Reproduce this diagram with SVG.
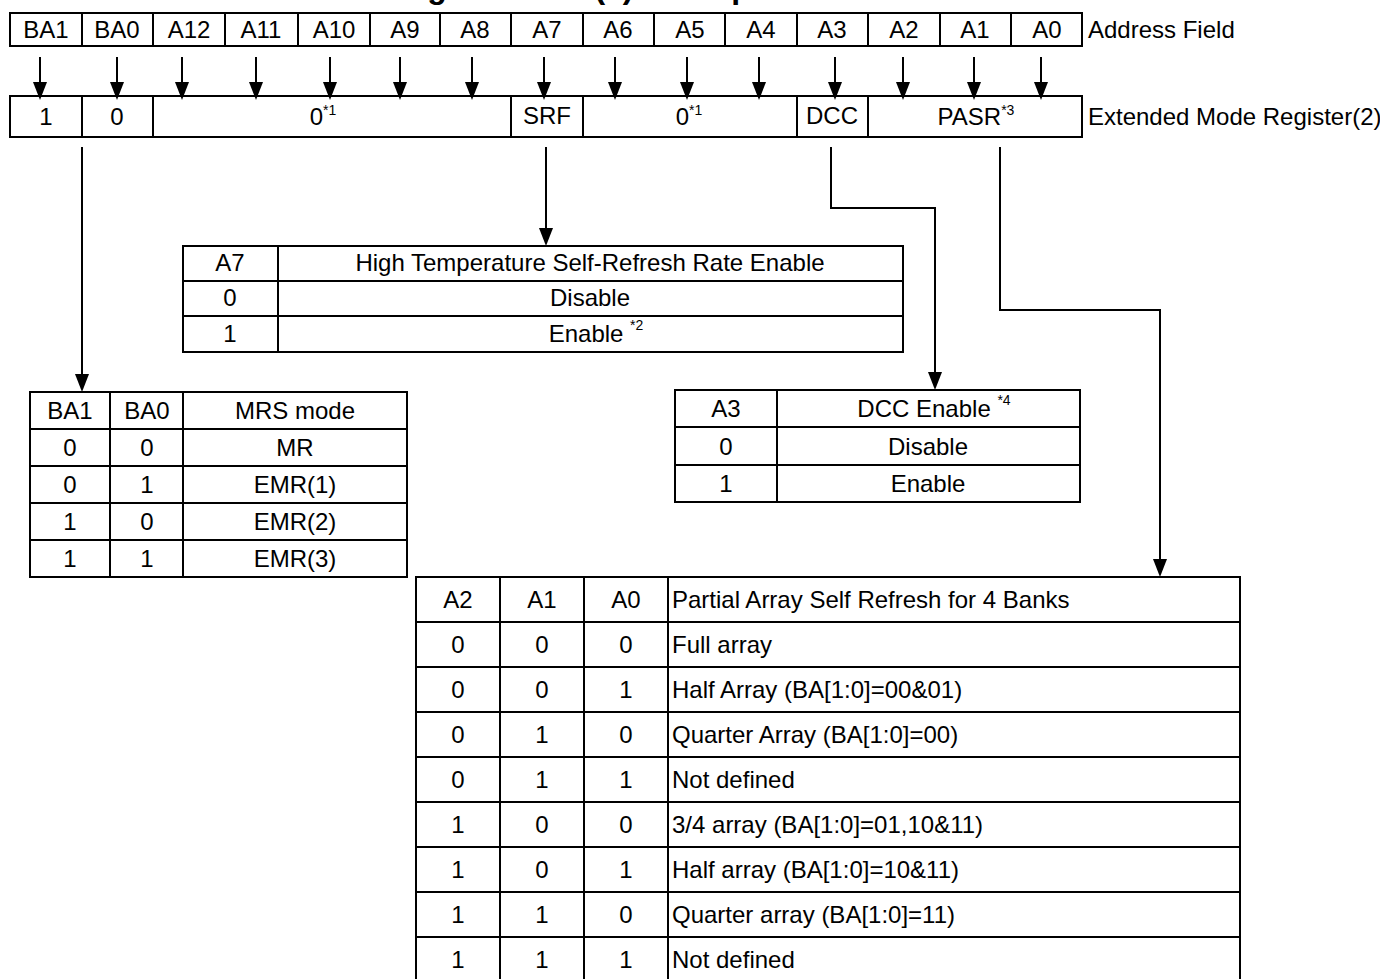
<svg xmlns="http://www.w3.org/2000/svg" width="1380" height="979" viewBox="0 0 1380 979">
<style>
.t{font-family:"Liberation Sans",Arial,Helvetica,sans-serif;font-size:24px;fill:#000}
.c{text-anchor:middle}
.sup{font-size:14px}
.box{fill:#fff;stroke:#000;stroke-width:2}
.ln{stroke:#000;stroke-width:2;fill:none}
.cn{stroke:#000;stroke-width:2;fill:none;marker-end:url(#ah)}
.ttl{font-family:"Liberation Sans",Arial,sans-serif;font-size:32px;font-weight:bold;fill:#000}
</style>
<defs>
<marker id="ah" viewBox="0 0 18 14" refX="14" refY="7" markerWidth="18" markerHeight="14" markerUnits="userSpaceOnUse" orient="auto">
<path d="M0,0 L18,7 L0,14 z" fill="#000"/>
</marker>
</defs>
<rect width="1380" height="979" fill="#fff"/>

<g id="title">
<text class="ttl" x="141" y="-2">Extended Mode Register EMR(2) Bitmap</text>
</g>

<g id="address-field">
<rect class="box" x="10" y="13" width="1072" height="33"/>
<path class="ln" d="M82,13V46 M153,13V46 M225,13V46 M298,13V46 M370,13V46 M440,13V46 M511,13V46 M583,13V46 M654,13V46 M725,13V46 M797,13V46 M868,13V46 M940,13V46 M1011,13V46"/>
<text class="t c" x="46" y="38">BA1</text>
<text class="t c" x="117" y="38">BA0</text>
<text class="t c" x="189" y="38">A12</text>
<text class="t c" x="261" y="38">A11</text>
<text class="t c" x="334" y="38">A10</text>
<text class="t c" x="405" y="38">A9</text>
<text class="t c" x="475" y="38">A8</text>
<text class="t c" x="547" y="38">A7</text>
<text class="t c" x="618" y="38">A6</text>
<text class="t c" x="690" y="38">A5</text>
<text class="t c" x="761" y="38">A4</text>
<text class="t c" x="832" y="38">A3</text>
<text class="t c" x="904" y="38">A2</text>
<text class="t c" x="975" y="38">A1</text>
<text class="t c" x="1047" y="38">A0</text>
<text class="t" x="1088" y="38" font-size="26">Address Field</text>
</g>

<g id="register">
<rect class="box" x="10" y="96" width="1072" height="41"/>
<path class="ln" d="M82,96V137 M153,96V137 M511,96V137 M583,96V137 M797,96V137 M868,96V137"/>
<text class="t c" x="46" y="125">1</text>
<text class="t c" x="117" y="125">0</text>
<text class="t c" x="323" y="125">0<tspan class="sup" dy="-10">*1</tspan></text>
<text class="t c" x="547" y="124" font-size="21">SRF</text>
<text class="t c" x="689" y="125">0<tspan class="sup" dy="-10">*1</tspan></text>
<text class="t c" x="832" y="124" font-size="22">DCC</text>
<text class="t c" x="976" y="125" font-size="22">PASR<tspan class="sup" dy="-10">*3</tspan></text>
<text class="t" x="1088" y="125">Extended Mode Register(2)</text>
</g>

<g id="connectors">
<path class="cn" d="M40,57V96"/>
<path class="cn" d="M117,57V96"/>
<path class="cn" d="M182,57V96"/>
<path class="cn" d="M256,57V96"/>
<path class="cn" d="M330,57V96"/>
<path class="cn" d="M400,57V96"/>
<path class="cn" d="M472,57V96"/>
<path class="cn" d="M544,57V96"/>
<path class="cn" d="M615,57V96"/>
<path class="cn" d="M687,57V96"/>
<path class="cn" d="M759,57V96"/>
<path class="cn" d="M835,57V96"/>
<path class="cn" d="M903,57V96"/>
<path class="cn" d="M974,57V96"/>
<path class="cn" d="M1041,57V96"/>
<path class="cn" d="M82,147V388"/>
<path class="cn" d="M546,147V242"/>
<path class="cn" d="M831,147V208H935V386"/>
<path class="cn" d="M1000,147V310H1160V573"/>
</g>

<g id="table-a7">
<rect class="box" x="183" y="246" width="720" height="106"/>
<path class="ln" d="M183,281H903 M183,316H903 M278,246V352"/>
<text class="t c" x="230" y="271">A7</text>
<text class="t c" x="590" y="271" font-size="26">High Temperature Self-Refresh Rate Enable</text>
<text class="t c" x="230" y="306">0</text>
<text class="t c" x="590" y="306">Disable</text>
<text class="t c" x="230" y="342">1</text>
<text class="t c" x="596" y="342">Enable <tspan class="sup" dy="-12">*2</tspan></text>
</g>

<g id="table-mrs">
<rect class="box" x="30" y="392" width="377" height="185"/>
<path class="ln" d="M30,429H407 M30,466H407 M30,503H407 M30,540H407 M110,392V577 M183,392V577"/>
<text class="t c" x="70" y="419">BA1</text>
<text class="t c" x="147" y="419">BA0</text>
<text class="t c" x="295" y="419">MRS mode</text>
<text class="t c" x="70" y="456">0</text>
<text class="t c" x="147" y="456">0</text>
<text class="t c" x="295" y="456">MR</text>
<text class="t c" x="70" y="493">0</text>
<text class="t c" x="147" y="493">1</text>
<text class="t c" x="295" y="493">EMR(1)</text>
<text class="t c" x="70" y="530">1</text>
<text class="t c" x="147" y="530">0</text>
<text class="t c" x="295" y="530">EMR(2)</text>
<text class="t c" x="70" y="567">1</text>
<text class="t c" x="147" y="567">1</text>
<text class="t c" x="295" y="567">EMR(3)</text>
</g>

<g id="table-dcc">
<rect class="box" x="675" y="390" width="405" height="112"/>
<path class="ln" d="M675,427H1080 M675,465H1080 M777,390V502"/>
<text class="t c" x="726" y="417">A3</text>
<text class="t c" x="934" y="417">DCC Enable <tspan class="sup" dy="-12">*4</tspan></text>
<text class="t c" x="726" y="455">0</text>
<text class="t c" x="928" y="455">Disable</text>
<text class="t c" x="726" y="492">1</text>
<text class="t c" x="928" y="492">Enable</text>
</g>

<g id="table-pasr">
<rect class="box" x="416" y="577" width="824" height="410"/>
<path class="ln" d="M416,622H1240 M416,667H1240 M416,712H1240 M416,757H1240 M416,802H1240 M416,847H1240 M416,892H1240 M416,937H1240 M500,577V987 M584,577V987 M668,577V987"/>
<text class="t c" x="458" y="608">A2</text>
<text class="t c" x="542" y="608">A1</text>
<text class="t c" x="626" y="608">A0</text>
<text class="t" x="672" y="608">Partial Array Self Refresh for 4 Banks</text>
<text class="t c" x="458" y="653">0</text><text class="t c" x="542" y="653">0</text><text class="t c" x="626" y="653">0</text>
<text class="t" x="672" y="653">Full array</text>
<text class="t c" x="458" y="698">0</text><text class="t c" x="542" y="698">0</text><text class="t c" x="626" y="698">1</text>
<text class="t" x="672" y="698">Half Array (BA[1:0]=00&amp;01)</text>
<text class="t c" x="458" y="743">0</text><text class="t c" x="542" y="743">1</text><text class="t c" x="626" y="743">0</text>
<text class="t" x="672" y="743">Quarter Array (BA[1:0]=00)</text>
<text class="t c" x="458" y="788">0</text><text class="t c" x="542" y="788">1</text><text class="t c" x="626" y="788">1</text>
<text class="t" x="672" y="788">Not defined</text>
<text class="t c" x="458" y="833">1</text><text class="t c" x="542" y="833">0</text><text class="t c" x="626" y="833">0</text>
<text class="t" x="672" y="833">3/4 array (BA[1:0]=01,10&amp;11)</text>
<text class="t c" x="458" y="878">1</text><text class="t c" x="542" y="878">0</text><text class="t c" x="626" y="878">1</text>
<text class="t" x="672" y="878">Half array (BA[1:0]=10&amp;11)</text>
<text class="t c" x="458" y="923">1</text><text class="t c" x="542" y="923">1</text><text class="t c" x="626" y="923">0</text>
<text class="t" x="672" y="923">Quarter array (BA[1:0]=11)</text>
<text class="t c" x="458" y="968">1</text><text class="t c" x="542" y="968">1</text><text class="t c" x="626" y="968">1</text>
<text class="t" x="672" y="968">Not defined</text>
</g>
</svg>
